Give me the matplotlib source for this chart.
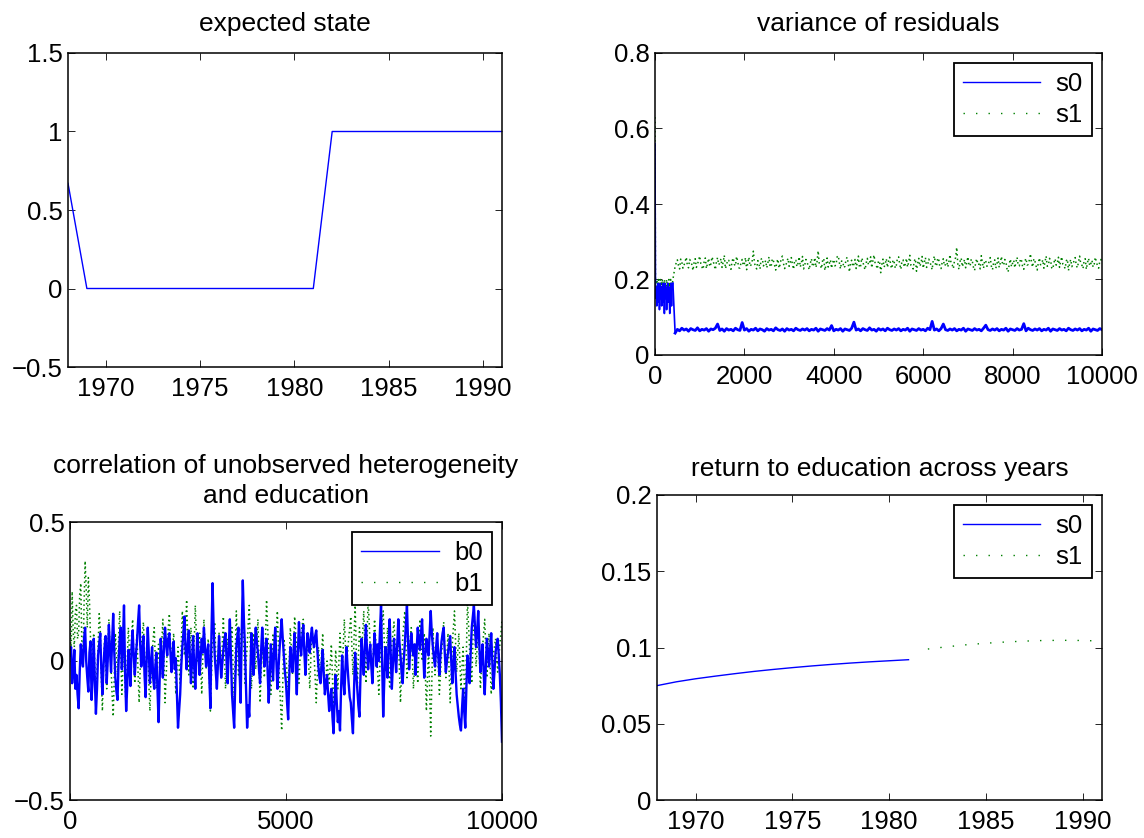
import numpy as np
import matplotlib
matplotlib.use('Agg')
import matplotlib.pyplot as plt
from matplotlib.lines import Line2D
from matplotlib.ticker import FuncFormatter

# ---------------- data ----------------
state_years = [1968, 1969, 1970, 1971, 1972, 1973, 1974, 1975, 1976, 1977, 1978, 1979,
               1980, 1981, 1982, 1983, 1984, 1985, 1986, 1987, 1988, 1989, 1990, 1991]
expected_state = [0.67, 0, 0, 0, 0, 0, 0, 0, 0, 0, 0, 0,
                  0, 0, 1, 1, 1, 1, 1, 1, 1, 1, 1, 1]

ret_years_s0 = [1968, 1969, 1970, 1971, 1972, 1973, 1974, 1975, 1976, 1977, 1978, 1979, 1980, 1981]
ret_s0 = [0.0750, 0.0775, 0.0795, 0.0812, 0.0828, 0.0843, 0.0856, 0.0868, 0.0879, 0.0889,
          0.0898, 0.0906, 0.0913, 0.0920]
ret_years_s1 = [1982, 1983, 1984, 1985, 1986, 1987, 1988, 1989, 1990, 1991]
ret_s1 = [0.0990, 0.1005, 0.1018, 0.1028, 0.1036, 0.1042, 0.1046, 0.1047, 0.1046, 0.1042]

# variance of residuals: burn-in (iterations 0..400) and main run (450..10000)
var_s0_burn = [0.56, 0.19, 0.15, 0.18, 0.13, 0.17, 0.16, 0.19, 0.14, 0.18, 0.12, 0.17, 0.19, 0.15,
               0.18, 0.13, 0.17, 0.16, 0.19, 0.14, 0.18, 0.11, 0.17, 0.19, 0.15, 0.18, 0.12, 0.17,
               0.16, 0.19, 0.14, 0.18, 0.15, 0.11, 0.18, 0.16, 0.19, 0.13, 0.17, 0.18, 0.19]
var_s1_burn = [0.63, 0.20, 0.18, 0.19, 0.20, 0.18, 0.19, 0.17, 0.20, 0.18, 0.19, 0.18, 0.20, 0.17,
               0.19, 0.18, 0.20, 0.19, 0.18, 0.17, 0.19, 0.20, 0.18, 0.19, 0.17, 0.18, 0.20, 0.19,
               0.18, 0.19, 0.17, 0.20, 0.18, 0.19, 0.18, 0.20, 0.17, 0.19, 0.18, 0.19, 0.20]
var_s0_main = [
    0.058, 0.068, 0.064, 0.071, 0.066, 0.069, 0.063, 0.070, 0.067, 0.065, 0.072, 0.064, 0.068, 0.066, 0.070, 0.063, 0.069, 0.067, 0.071, 0.082,
    0.065, 0.069, 0.063, 0.070, 0.066, 0.068, 0.064, 0.071, 0.067, 0.065, 0.086, 0.066, 0.070, 0.063, 0.068, 0.066, 0.071, 0.064, 0.069, 0.067,
    0.063, 0.070, 0.066, 0.068, 0.064, 0.072, 0.067, 0.065, 0.069, 0.063, 0.070, 0.066, 0.068, 0.064, 0.071, 0.067, 0.065, 0.069, 0.066, 0.070,
    0.064, 0.068, 0.066, 0.071, 0.063, 0.069, 0.067, 0.065, 0.070, 0.066, 0.078, 0.064, 0.068, 0.066, 0.070, 0.063, 0.069, 0.067, 0.065, 0.071,
    0.087, 0.066, 0.069, 0.064, 0.070, 0.067, 0.065, 0.072, 0.066, 0.068, 0.063, 0.070, 0.066, 0.069, 0.064, 0.071, 0.067, 0.065, 0.069, 0.066,
    0.070, 0.064, 0.068, 0.066, 0.071, 0.063, 0.069, 0.067, 0.065, 0.070, 0.066, 0.068, 0.064, 0.071, 0.067, 0.089, 0.066, 0.069, 0.064, 0.070,
    0.082, 0.067, 0.065, 0.069, 0.066, 0.070, 0.064, 0.068, 0.066, 0.071, 0.063, 0.069, 0.067, 0.065, 0.070, 0.066, 0.068, 0.064, 0.071, 0.079,
    0.067, 0.065, 0.069, 0.066, 0.070, 0.064, 0.068, 0.066, 0.071, 0.063, 0.069, 0.067, 0.065, 0.070, 0.066, 0.068, 0.083, 0.064, 0.071, 0.067,
    0.065, 0.069, 0.066, 0.070, 0.064, 0.068, 0.066, 0.071, 0.063, 0.069, 0.067, 0.065, 0.070, 0.066, 0.068, 0.064, 0.071, 0.067, 0.065, 0.069,
    0.066, 0.070, 0.064, 0.068, 0.066, 0.071, 0.063, 0.069, 0.067, 0.065, 0.070, 0.067]
var_s1_main = [
    0.235, 0.244, 0.252, 0.237, 0.228, 0.254, 0.246, 0.230, 0.238, 0.248, 0.259, 0.236, 0.231, 0.253, 0.249, 0.239, 0.224, 0.245, 0.255, 0.232,
    0.240, 0.251, 0.262, 0.242, 0.233, 0.227, 0.247, 0.257, 0.229, 0.243, 0.256, 0.234, 0.241, 0.260, 0.250, 0.237, 0.226, 0.248, 0.258, 0.239,
    0.244, 0.255, 0.232, 0.246, 0.264, 0.229, 0.238, 0.252, 0.251, 0.234, 0.227, 0.249, 0.257, 0.240, 0.236, 0.261, 0.248, 0.231, 0.230, 0.245,
    0.253, 0.237, 0.242, 0.258, 0.226, 0.243, 0.259, 0.235, 0.239, 0.250, 0.275, 0.244, 0.233, 0.228, 0.250, 0.241, 0.228, 0.254, 0.256, 0.236,
    0.241, 0.250, 0.231, 0.244, 0.260, 0.233, 0.236, 0.255, 0.249, 0.238, 0.225, 0.246, 0.254, 0.230, 0.240, 0.257, 0.262, 0.242, 0.229, 0.237,
    0.247, 0.256, 0.235, 0.245, 0.258, 0.239, 0.227, 0.252, 0.251, 0.234, 0.243, 0.260, 0.233, 0.244, 0.261, 0.228, 0.238, 0.253, 0.248, 0.236,
    0.226, 0.243, 0.255, 0.234, 0.240, 0.258, 0.232, 0.247, 0.276, 0.241, 0.237, 0.229, 0.250, 0.256, 0.224, 0.238, 0.257, 0.233, 0.242, 0.252,
    0.230, 0.245, 0.253, 0.236, 0.239, 0.260, 0.263, 0.244, 0.228, 0.249, 0.248, 0.231, 0.235, 0.254, 0.259, 0.240, 0.220, 0.246, 0.251, 0.234,
    0.241, 0.253, 0.229, 0.245, 0.262, 0.231, 0.236, 0.257, 0.248, 0.234, 0.226, 0.244, 0.256, 0.239, 0.243, 0.260, 0.231, 0.250, 0.265, 0.242,
    0.237, 0.228, 0.250, 0.246, 0.218, 0.240, 0.254, 0.233, 0.240, 0.255, 0.232, 0.249, 0.259, 0.236, 0.229, 0.252, 0.247, 0.230, 0.238, 0.258,
    0.260, 0.240, 0.227, 0.249, 0.252, 0.233, 0.241, 0.256, 0.233, 0.246, 0.264, 0.238, 0.236, 0.228, 0.249, 0.255, 0.222, 0.242, 0.256, 0.235,
    0.243, 0.261, 0.230, 0.245, 0.258, 0.232, 0.239, 0.254, 0.247, 0.237, 0.226, 0.251, 0.262, 0.240, 0.235, 0.257, 0.251, 0.231, 0.229, 0.246,
    0.255, 0.236, 0.240, 0.252, 0.233, 0.247, 0.266, 0.241, 0.238, 0.229, 0.250, 0.258, 0.285, 0.239, 0.227, 0.248, 0.257, 0.234, 0.243, 0.253,
    0.231, 0.245, 0.260, 0.237, 0.236, 0.254, 0.248, 0.232, 0.224, 0.246, 0.255, 0.239, 0.241, 0.228, 0.263, 0.244, 0.230, 0.251, 0.249, 0.235,
    0.237, 0.248, 0.258, 0.235, 0.226, 0.245, 0.252, 0.230, 0.242, 0.257, 0.232, 0.244, 0.261, 0.240, 0.238, 0.253, 0.247, 0.228, 0.220, 0.241,
    0.254, 0.234, 0.243, 0.251, 0.231, 0.246, 0.259, 0.237, 0.236, 0.255, 0.250, 0.233, 0.227, 0.249, 0.256, 0.238, 0.240, 0.252, 0.268, 0.242,
    0.233, 0.255, 0.248, 0.236, 0.225, 0.244, 0.257, 0.239, 0.241, 0.252, 0.230, 0.247, 0.262, 0.235, 0.237, 0.256, 0.251, 0.231, 0.228, 0.245,
    0.255, 0.238, 0.243, 0.259, 0.232, 0.249, 0.260, 0.240, 0.236, 0.229, 0.249, 0.254, 0.224, 0.242, 0.253, 0.234, 0.240, 0.250, 0.258, 0.237,
    0.231, 0.247, 0.262, 0.241, 0.238, 0.229, 0.250, 0.255, 0.227, 0.245, 0.256, 0.236, 0.242, 0.251, 0.233, 0.240, 0.259, 0.246, 0.236, 0.230,
    0.248, 0.253, 0.244]

# correlation traces (iterations 0..10000, every 25)
corr_b0 = [
    0.02, 0.05, -0.08, -0.03, 0.04, -0.10, -0.05, -0.12, -0.17, -0.04, 0.06, 0.01, -0.02, 0.08, 0.12, 0.00, -0.06, -0.11, 0.03, 0.07,
    -0.14, -0.05, 0.08, -0.07, -0.19, -0.10, 0.02, 0.06, 0.10, -0.03, -0.12, -0.02, 0.05, 0.09, -0.08, 0.01, 0.13, 0.04, -0.04, 0.07,
    0.17, 0.03, -0.06, -0.11, -0.14, 0.00, 0.08, 0.12, -0.03, 0.07, 0.20, -0.04, -0.18, -0.09, 0.04, -0.02, -0.09, 0.05, 0.11, 0.02,
    -0.05, 0.02, 0.07, 0.14, 0.20, 0.06, -0.02, 0.04, 0.09, -0.05, -0.13, 0.01, 0.12, 0.03, -0.08, -0.01, 0.05, -0.06, -0.10, -0.02,
    0.03, -0.10, -0.22, -0.07, 0.08, 0.01, -0.06, 0.05, 0.12, 0.06, 0.02, 0.08, 0.10, 0.03, -0.04, 0.02, 0.07, -0.03, 0.01, -0.12,
    -0.24, -0.18, -0.12, -0.02, 0.05, 0.10, 0.16, 0.04, -0.03, 0.06, 0.11, 0.02, -0.08, 0.00, 0.09, -0.02, -0.10, 0.01, 0.10, 0.03,
    -0.05, 0.02, 0.08, 0.03, 0.12, 0.05, -0.02, 0.03, 0.06, -0.06, -0.17, 0.10, 0.28, 0.12, 0.02, -0.04, -0.10, -0.01, 0.09, 0.01,
    -0.06, -0.01, 0.04, 0.08, 0.10, 0.00, -0.08, 0.05, 0.15, 0.02, -0.12, -0.18, -0.24, -0.08, 0.05, 0.09, 0.12, -0.03, -0.15, 0.10,
    0.29, 0.15, 0.05, -0.10, -0.24, -0.16, -0.20, -0.05, 0.10, 0.02, -0.05, 0.06, 0.12, 0.07, 0.03, -0.03, -0.08, 0.04, 0.12, 0.05,
    -0.02, 0.03, 0.08, -0.04, -0.15, -0.05, 0.06, 0.00, -0.07, 0.04, 0.12, 0.01, -0.10, -0.03, 0.04, 0.10, 0.15, 0.08, 0.02, -0.04,
    -0.08, -0.15, -0.21, -0.06, 0.05, 0.00, -0.04, 0.04, 0.10, -0.02, -0.12, 0.03, 0.14, 0.06, 0.02, 0.08, 0.13, 0.03, -0.05, 0.04,
    0.10, 0.06, 0.03, 0.09, 0.12, 0.07, 0.05, 0.09, 0.11, 0.04, -0.02, -0.06, -0.08, -0.01, 0.04, -0.05, -0.12, -0.08, -0.05, -0.12,
    -0.18, -0.13, -0.10, -0.20, -0.26, -0.14, -0.05, -0.15, -0.22, -0.18, -0.25, -0.10, 0.02, -0.06, -0.12, -0.03, 0.05, -0.02, -0.08, -0.13,
    -0.15, -0.21, -0.26, -0.10, 0.03, -0.04, -0.10, -0.16, -0.20, -0.05, 0.08, 0.01, -0.05, 0.05, 0.13, 0.04, -0.03, 0.02, 0.06, -0.02,
    -0.08, 0.02, 0.10, 0.04, -0.02, 0.06, 0.00, 0.11, 0.20, 0.00, -0.20, -0.07, 0.05, 0.00, -0.06, 0.06, 0.15, 0.02, -0.10, -0.01,
    0.08, 0.02, -0.04, 0.06, 0.15, 0.07, 0.02, -0.04, -0.08, 0.00, 0.06, 0.13, 0.20, 0.07, -0.03, 0.04, 0.10, 0.05, 0.02, 0.06,
    -0.05, 0.04, 0.12, 0.07, 0.04, 0.10, 0.15, 0.04, -0.06, 0.02, 0.08, 0.04, 0.02, 0.10, 0.18, 0.10, 0.05, 0.01, -0.02, 0.05,
    0.10, 0.02, -0.05, 0.02, 0.07, 0.10, 0.12, 0.03, -0.04, 0.00, 0.03, 0.06, 0.09, 0.00, -0.08, -0.01, 0.05, -0.04, -0.12, -0.16,
    -0.20, -0.23, -0.25, -0.17, -0.10, -0.18, -0.24, -0.10, 0.02, -0.04, -0.08, 0.03, 0.12, 0.16, 0.20, 0.12, 0.05, 0.11, 0.18, 0.06,
    -0.04, 0.01, 0.06, -0.04, -0.12, -0.02, 0.08, 0.03, -0.02, 0.04, 0.10, 0.00, -0.10, -0.04, 0.03, 0.06, 0.08, 0.02, -0.05, -0.15,
    -0.29]
corr_b1 = [
    0.15, 0.02, 0.25, 0.10, 0.05, 0.18, 0.20, 0.08, 0.10, 0.24, 0.28, 0.05, -0.02, 0.20, 0.36, 0.26, 0.12, 0.30, 0.22, 0.08,
    -0.05, 0.06, 0.10, -0.02, -0.15, -0.04, 0.05, 0.17, 0.12, -0.06, -0.18, -0.03, 0.08, 0.00, -0.10, 0.04, 0.15, 0.05, -0.02, -0.12,
    -0.20, -0.06, 0.10, 0.02, -0.05, 0.08, 0.18, 0.03, -0.12, -0.02, 0.05, -0.08, -0.17, 0.00, 0.12, 0.04, 0.00, 0.09, 0.15, 0.02,
    -0.08, 0.03, 0.10, -0.04, -0.15, -0.03, 0.05, 0.10, 0.14, 0.02, -0.06, 0.04, 0.08, -0.08, -0.18, -0.06, 0.02, 0.08, 0.12, 0.00,
    -0.10, -0.02, 0.06, 0.00, -0.05, 0.07, 0.15, 0.00, -0.15, -0.06, 0.04, 0.12, 0.17, 0.06, -0.02, 0.05, 0.10, -0.02, -0.12, -0.03,
    0.05, -0.02, -0.08, 0.06, 0.18, 0.10, 0.02, 0.12, 0.22, 0.08, -0.05, 0.04, 0.12, 0.01, -0.10, 0.06, 0.20, 0.09, 0.00, 0.06,
    0.10, -0.02, -0.12, 0.02, 0.15, 0.05, -0.03, 0.03, 0.08, -0.06, -0.18, -0.05, 0.06, 0.10, 0.14, 0.02, -0.08, 0.01, 0.10, 0.03,
    -0.04, 0.06, 0.16, 0.03, -0.10, -0.01, 0.08, 0.04, 0.02, 0.08, 0.12, -0.02, -0.14, 0.03, 0.18, 0.06, -0.05, 0.02, 0.09, 0.12,
    0.14, 0.03, -0.08, -0.01, 0.05, 0.13, 0.20, 0.05, -0.10, 0.00, 0.10, 0.03, -0.03, 0.06, 0.15, 0.00, -0.15, -0.04, 0.06, 0.00,
    -0.06, 0.08, 0.22, 0.12, 0.04, -0.04, -0.12, -0.01, 0.10, 0.05, 0.00, 0.09, 0.18, 0.05, -0.08, -0.16, -0.25, -0.08, 0.08, 0.04,
    0.02, -0.05, -0.12, 0.00, 0.12, 0.04, -0.05, 0.05, 0.16, 0.10, 0.04, -0.02, -0.08, 0.01, 0.10, 0.13, 0.15, 0.06, -0.02, 0.03,
    0.08, -0.01, -0.10, 0.01, 0.12, 0.07, 0.02, -0.06, -0.15, -0.05, 0.05, 0.00, -0.05, 0.03, 0.10, -0.01, -0.12, -0.06, 0.00, -0.04,
    -0.08, -0.01, 0.06, -0.06, -0.18, -0.07, 0.04, -0.03, -0.10, 0.00, 0.10, 0.02, -0.05, 0.05, 0.15, 0.06, -0.02, 0.03, 0.08, 0.12,
    0.16, 0.05, -0.05, 0.08, 0.20, 0.05, -0.10, 0.01, 0.12, 0.07, 0.02, 0.10, 0.18, 0.05, -0.08, 0.07, 0.22, 0.14, 0.05, 0.00,
    -0.06, 0.05, 0.15, 0.08, 0.02, -0.05, -0.12, -0.01, 0.10, 0.14, 0.18, 0.07, -0.04, 0.04, 0.12, 0.01, -0.10, -0.02, 0.06, 0.10,
    0.14, 0.06, -0.02, 0.04, 0.10, -0.03, -0.15, -0.04, 0.08, 0.13, 0.18, 0.06, -0.06, -0.01, 0.04, 0.08, 0.12, 0.01, -0.10, -0.02,
    0.06, -0.01, -0.08, 0.04, 0.15, 0.07, 0.00, 0.05, 0.10, -0.04, -0.18, -0.06, 0.05, -0.11, -0.27, -0.08, 0.12, 0.03, -0.05, 0.02,
    0.08, -0.02, -0.12, -0.05, 0.02, 0.08, 0.14, 0.04, -0.06, 0.02, 0.10, -0.03, -0.15, -0.04, 0.06, 0.12, 0.18, 0.07, -0.04, 0.03,
    0.10, 0.00, -0.10, -0.02, 0.05, -0.07, -0.18, 0.02, 0.22, 0.13, 0.04, -0.02, -0.08, 0.06, 0.20, 0.09, -0.02, 0.05, 0.12, 0.02,
    -0.10, -0.02, 0.05, 0.10, 0.15, 0.04, -0.06, 0.02, 0.10, -0.01, -0.12, -0.05, 0.02, 0.05, 0.08, 0.02, -0.04, 0.01, 0.06, 0.10,
    0.15]

# ---------------- style ----------------
plt.rcParams['font.family'] = ['Liberation Sans', 'DejaVu Sans']
plt.rcParams['path.simplify'] = False
BLUE = '#0000ff'
GREEN = '#008000'
FS = 18.5
TFS = 19
W, H = 1144, 838

fig = plt.figure(figsize=(W / 100, H / 100), dpi=100)


def make_ax(left, right, top, bottom):
    ax = fig.add_axes([left / W, 1 - bottom / H, (right - left) / W, (bottom - top) / H])
    ax.tick_params(direction='in', length=5, width=0.6, top=True, right=True, labelsize=FS)
    ax.tick_params(axis='x', pad=7)
    ax.tick_params(axis='y', pad=4)
    for s in ax.spines.values():
        s.set_linewidth(1.1)
    ax.yaxis.set_major_formatter(FuncFormatter(lambda v, p: ('%g' % v).replace('-', '\u2212')))
    ax.xaxis.set_major_formatter(FuncFormatter(lambda v, p: '%g' % v))
    return ax


def legend(ax, labels, handles):
    lg = ax.legend(handles, labels, loc='upper right', fontsize=FS, fancybox=False,
                   framealpha=1, edgecolor='black', handlelength=3.0, handletextpad=0.6,
                   borderaxespad=0.4, borderpad=0.35, labelspacing=0.25)
    lg.get_frame().set_linewidth(1.3)
    return lg


solid_proxy = Line2D([], [], color=BLUE, lw=1.0)
dot_proxy = Line2D([], [], color=GREEN, lw=1.0, linestyle=(0, (1, 8)))

# expected state
ax1 = make_ax(68, 502, 53, 367)
ax1.plot(state_years, expected_state, color=BLUE, lw=1.0)
ax1.set_xlim(1968, 1991)
ax1.set_ylim(-0.5, 1.5)
ax1.set_xticks([1970, 1975, 1980, 1985, 1990])
ax1.set_yticks([-0.5, 0, 0.5, 1, 1.5])
ax1.set_title('expected state', fontsize=TFS, pad=16)

# variance of residuals
ax2 = make_ax(655, 1102, 53, 355)
x_burn = np.linspace(0, 400, len(var_s0_burn))
x_s0_main = np.linspace(450, 10000, len(var_s0_main))
x_s1_main = np.linspace(450, 10000, len(var_s1_main))
ax2.plot(np.concatenate([x_burn, x_s1_main]), var_s1_burn + var_s1_main,
         color=GREEN, lw=1.1, linestyle=(0, (1, 2.0)))
ax2.plot(x_burn, var_s0_burn, color=BLUE, lw=1.2)
ax2.plot([x_burn[-1], x_s0_main[0]], [var_s0_burn[-1], var_s0_main[0]], color=BLUE, lw=1.2)
ax2.plot(x_s0_main, var_s0_main, color=BLUE, lw=2.0)
ax2.set_xlim(0, 10000)
ax2.set_ylim(0, 0.8)
ax2.set_xticks([0, 2000, 4000, 6000, 8000, 10000])
ax2.set_yticks([0, 0.2, 0.4, 0.6, 0.8])
ax2.set_title('variance of residuals', fontsize=TFS, pad=16)
legend(ax2, ['s0', 's1'], [solid_proxy, dot_proxy])

# correlation
ax3 = make_ax(70, 502, 522, 800)
x_corr = np.linspace(0, 10000, len(corr_b0))
ax3.plot(np.linspace(0, 10000, len(corr_b1)), corr_b1, color=GREEN, lw=1.1,
         linestyle=(0, (1, 2.0)))
ax3.plot(x_corr, corr_b0, color=BLUE, lw=1.7)
ax3.set_xlim(0, 10000)
ax3.set_ylim(-0.5, 0.5)
ax3.set_xticks([0, 5000, 10000])
ax3.set_yticks([-0.5, 0, 0.5])
ax3.set_title('correlation of unobserved heterogeneity\nand education', fontsize=TFS, pad=14,
              linespacing=1.3)
legend(ax3, ['b0', 'b1'], [solid_proxy, dot_proxy])

# return to education
ax4 = make_ax(657, 1102, 495, 800)
ax4.plot(ret_years_s0, ret_s0, color=BLUE, lw=1.0)
ax4.plot(ret_years_s1, ret_s1, color=GREEN, lw=1.0, linestyle=(0, (1, 8)))
ax4.set_xlim(1968, 1991)
ax4.set_ylim(0, 0.2)
ax4.set_xticks([1970, 1975, 1980, 1985, 1990])
ax4.set_yticks([0, 0.05, 0.1, 0.15, 0.2])
ax4.set_title('return to education across years', fontsize=TFS, pad=14)
legend(ax4, ['s0', 's1'], [solid_proxy, dot_proxy])

fig.savefig('out.png', dpi=100)
